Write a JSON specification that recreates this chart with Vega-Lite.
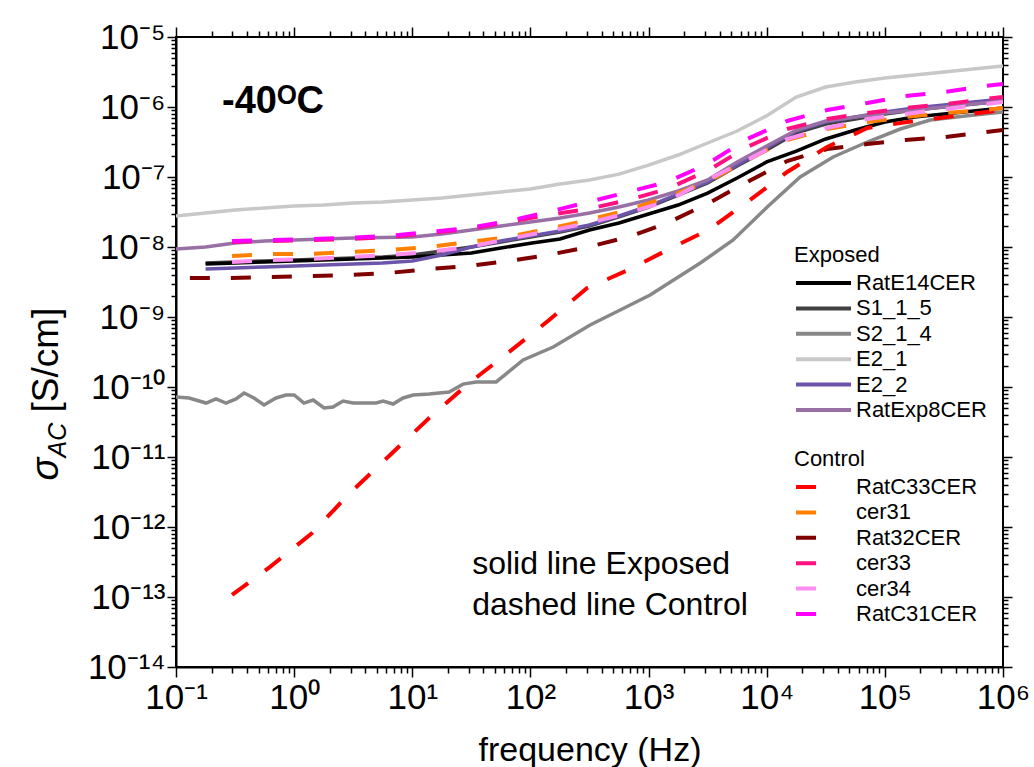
{
  "$schema": "https://vega.github.io/schema/vega-lite/v6.json",
  "width": 827,
  "height": 630,
  "autosize": {"type": "none"},
  "padding": {"left": 176, "top": 37, "right": 31, "bottom": 100},
  "background": "white",
  "config": {
    "font": "Liberation Sans",
    "view": {"stroke": "black", "strokeWidth": 2},
    "axis": {"domainColor": "black", "tickColor": "black", "labelColor": "black", "titleColor": "black", "domainWidth": 2, "tickWidth": 1.5, "grid": false, "labelFont": "Liberation Sans", "titleFont": "Liberation Sans"},
    "legend": {"labelFont": "Liberation Sans", "titleFont": "Liberation Sans", "labelColor": "black", "titleColor": "black"}
  },
  "datasets": {
    "exposed": [
      {"series": "E2_1", "f": 0.1, "s": 2.77e-8}, {"series": "E2_1", "f": 0.178, "s": 3.06e-8}, {"series": "E2_1", "f": 0.316, "s": 3.38e-8}, {"series": "E2_1", "f": 0.562, "s": 3.61e-8}, {"series": "E2_1", "f": 1, "s": 3.85e-8}, {"series": "E2_1", "f": 1.78, "s": 3.98e-8}, {"series": "E2_1", "f": 3.16, "s": 4.26e-8}, {"series": "E2_1", "f": 5.62, "s": 4.39e-8}, {"series": "E2_1", "f": 10, "s": 4.69e-8}, {"series": "E2_1", "f": 17.8, "s": 5.01e-8}, {"series": "E2_1", "f": 31.6, "s": 5.53e-8}, {"series": "E2_1", "f": 56.2, "s": 6.11e-8}, {"series": "E2_1", "f": 100, "s": 6.75e-8}, {"series": "E2_1", "f": 178, "s": 7.94e-8}, {"series": "E2_1", "f": 316, "s": 9.06e-8}, {"series": "E2_1", "f": 562, "s": 1.10e-7}, {"series": "E2_1", "f": 1000, "s": 1.48e-7}, {"series": "E2_1", "f": 1780, "s": 2.06e-7}, {"series": "E2_1", "f": 3160, "s": 3.06e-7}, {"series": "E2_1", "f": 5620, "s": 4.54e-7}, {"series": "E2_1", "f": 10000, "s": 7.5e-7}, {"series": "E2_1", "f": 17800, "s": 1.39e-6}, {"series": "E2_1", "f": 31600, "s": 1.93e-6}, {"series": "E2_1", "f": 56200, "s": 2.28e-6}, {"series": "E2_1", "f": 100000, "s": 2.59e-6}, {"series": "E2_1", "f": 178000, "s": 2.86e-6}, {"series": "E2_1", "f": 316000, "s": 3.16e-6}, {"series": "E2_1", "f": 562000, "s": 3.49e-6}, {"series": "E2_1", "f": 1000000, "s": 3.85e-6},

      {"series": "S2_1_4", "f": 0.1, "s": 7.19e-11}, {"series": "S2_1_4", "f": 0.129, "s": 6.97e-11}, {"series": "S2_1_4", "f": 0.18, "s": 5.90e-11}, {"series": "S2_1_4", "f": 0.218, "s": 6.75e-11}, {"series": "S2_1_4", "f": 0.265, "s": 5.90e-11}, {"series": "S2_1_4", "f": 0.322, "s": 6.75e-11}, {"series": "S2_1_4", "f": 0.377, "s": 8.20e-11}, {"series": "S2_1_4", "f": 0.457, "s": 6.97e-11}, {"series": "S2_1_4", "f": 0.556, "s": 5.53e-11}, {"series": "S2_1_4", "f": 0.703, "s": 6.97e-11}, {"series": "S2_1_4", "f": 0.853, "s": 7.69e-11}, {"series": "S2_1_4", "f": 1.0, "s": 7.69e-11}, {"series": "S2_1_4", "f": 1.21, "s": 5.90e-11}, {"series": "S2_1_4", "f": 1.45, "s": 6.52e-11}, {"series": "S2_1_4", "f": 1.79, "s": 5.01e-11}, {"series": "S2_1_4", "f": 2.13, "s": 5.18e-11}, {"series": "S2_1_4", "f": 2.59, "s": 6.31e-11}, {"series": "S2_1_4", "f": 3.15, "s": 5.90e-11}, {"series": "S2_1_4", "f": 4.94, "s": 5.90e-11}, {"series": "S2_1_4", "f": 5.66, "s": 6.31e-11}, {"series": "S2_1_4", "f": 6.88, "s": 5.71e-11}, {"series": "S2_1_4", "f": 8.36, "s": 6.97e-11}, {"series": "S2_1_4", "f": 10.2, "s": 7.69e-11}, {"series": "S2_1_4", "f": 13.9, "s": 7.94e-11}, {"series": "S2_1_4", "f": 20.5, "s": 8.49e-11}, {"series": "S2_1_4", "f": 26.9, "s": 1.10e-10}, {"series": "S2_1_4", "f": 34.7, "s": 1.18e-10}, {"series": "S2_1_4", "f": 51.3, "s": 1.18e-10}, {"series": "S2_1_4", "f": 86.8, "s": 2.43e-10}, {"series": "S2_1_4", "f": 156, "s": 3.72e-10}, {"series": "S2_1_4", "f": 320, "s": 7.69e-10}, {"series": "S2_1_4", "f": 575, "s": 1.26e-9}, {"series": "S2_1_4", "f": 1030, "s": 2.06e-9}, {"series": "S2_1_4", "f": 2740, "s": 5.90e-9}, {"series": "S2_1_4", "f": 5200, "s": 1.26e-8}, {"series": "S2_1_4", "f": 10100, "s": 3.72e-8}, {"series": "S2_1_4", "f": 19200, "s": 1.00e-7}, {"series": "S2_1_4", "f": 36500, "s": 1.93e-7}, {"series": "S2_1_4", "f": 71000, "s": 3.16e-7}, {"series": "S2_1_4", "f": 135000, "s": 4.85e-7}, {"series": "S2_1_4", "f": 242000, "s": 6.52e-7}, {"series": "S2_1_4", "f": 479000, "s": 7.43e-7}, {"series": "S2_1_4", "f": 1000000, "s": 8.49e-7},

      {"series": "S1_1_5", "f": 0.178, "s": 5.90e-9}, {"series": "S1_1_5", "f": 0.316, "s": 6.11e-9}, {"series": "S1_1_5", "f": 0.562, "s": 6.31e-9}, {"series": "S1_1_5", "f": 1, "s": 6.52e-9}, {"series": "S1_1_5", "f": 1.78, "s": 6.75e-9}, {"series": "S1_1_5", "f": 3.16, "s": 6.97e-9}, {"series": "S1_1_5", "f": 5.62, "s": 7.19e-9}, {"series": "S1_1_5", "f": 10, "s": 7.69e-9}, {"series": "S1_1_5", "f": 17.8, "s": 8.77e-9}, {"series": "S1_1_5", "f": 31.6, "s": 1.00e-8}, {"series": "S1_1_5", "f": 56.2, "s": 1.18e-8}, {"series": "S1_1_5", "f": 100, "s": 1.39e-8}, {"series": "S1_1_5", "f": 178, "s": 1.64e-8}, {"series": "S1_1_5", "f": 316, "s": 2.00e-8}, {"series": "S1_1_5", "f": 562, "s": 2.69e-8}, {"series": "S1_1_5", "f": 1000, "s": 3.72e-8}, {"series": "S1_1_5", "f": 1780, "s": 5.53e-8}, {"series": "S1_1_5", "f": 3160, "s": 8.20e-8}, {"series": "S1_1_5", "f": 5620, "s": 1.44e-7}, {"series": "S1_1_5", "f": 10000, "s": 2.43e-7}, {"series": "S1_1_5", "f": 17800, "s": 4.26e-7}, {"series": "S1_1_5", "f": 31600, "s": 5.71e-7}, {"series": "S1_1_5", "f": 56200, "s": 6.75e-7}, {"series": "S1_1_5", "f": 100000, "s": 7.94e-7}, {"series": "S1_1_5", "f": 178000, "s": 9.06e-7}, {"series": "S1_1_5", "f": 316000, "s": 1.00e-6}, {"series": "S1_1_5", "f": 562000, "s": 1.10e-6}, {"series": "S1_1_5", "f": 1000000, "s": 1.22e-6},

      {"series": "RatE14CER", "f": 0.178, "s": 5.71e-9}, {"series": "RatE14CER", "f": 0.316, "s": 5.90e-9}, {"series": "RatE14CER", "f": 0.562, "s": 6.11e-9}, {"series": "RatE14CER", "f": 1, "s": 6.31e-9}, {"series": "RatE14CER", "f": 1.78, "s": 6.52e-9}, {"series": "RatE14CER", "f": 3.16, "s": 6.75e-9}, {"series": "RatE14CER", "f": 5.62, "s": 6.97e-9}, {"series": "RatE14CER", "f": 10, "s": 7.19e-9}, {"series": "RatE14CER", "f": 17.8, "s": 7.69e-9}, {"series": "RatE14CER", "f": 31.6, "s": 8.20e-9}, {"series": "RatE14CER", "f": 56.2, "s": 9.68e-9}, {"series": "RatE14CER", "f": 100, "s": 1.13e-8}, {"series": "RatE14CER", "f": 178, "s": 1.30e-8}, {"series": "RatE14CER", "f": 316, "s": 1.75e-8}, {"series": "RatE14CER", "f": 562, "s": 2.20e-8}, {"series": "RatE14CER", "f": 1000, "s": 2.96e-8}, {"series": "RatE14CER", "f": 1780, "s": 3.98e-8}, {"series": "RatE14CER", "f": 3160, "s": 5.90e-8}, {"series": "RatE14CER", "f": 5620, "s": 9.68e-8}, {"series": "RatE14CER", "f": 10000, "s": 1.64e-7}, {"series": "RatE14CER", "f": 17800, "s": 2.35e-7}, {"series": "RatE14CER", "f": 31600, "s": 3.49e-7}, {"series": "RatE14CER", "f": 56200, "s": 4.69e-7}, {"series": "RatE14CER", "f": 100000, "s": 6.11e-7}, {"series": "RatE14CER", "f": 178000, "s": 7.19e-7}, {"series": "RatE14CER", "f": 316000, "s": 7.94e-7}, {"series": "RatE14CER", "f": 562000, "s": 8.77e-7}, {"series": "RatE14CER", "f": 1000000, "s": 9.68e-7},

      {"series": "E2_2", "f": 0.178, "s": 4.85e-9}, {"series": "E2_2", "f": 0.316, "s": 5.01e-9}, {"series": "E2_2", "f": 0.562, "s": 5.18e-9}, {"series": "E2_2", "f": 1, "s": 5.36e-9}, {"series": "E2_2", "f": 1.78, "s": 5.53e-9}, {"series": "E2_2", "f": 3.16, "s": 5.71e-9}, {"series": "E2_2", "f": 5.62, "s": 5.90e-9}, {"series": "E2_2", "f": 10, "s": 6.31e-9}, {"series": "E2_2", "f": 17.8, "s": 7.69e-9}, {"series": "E2_2", "f": 31.6, "s": 1.00e-8}, {"series": "E2_2", "f": 56.2, "s": 1.22e-8}, {"series": "E2_2", "f": 100, "s": 1.44e-8}, {"series": "E2_2", "f": 178, "s": 1.69e-8}, {"series": "E2_2", "f": 316, "s": 2.06e-8}, {"series": "E2_2", "f": 562, "s": 2.77e-8}, {"series": "E2_2", "f": 1000, "s": 3.85e-8}, {"series": "E2_2", "f": 1780, "s": 5.71e-8}, {"series": "E2_2", "f": 3160, "s": 8.49e-8}, {"series": "E2_2", "f": 5620, "s": 1.48e-7}, {"series": "E2_2", "f": 10000, "s": 2.59e-7}, {"series": "E2_2", "f": 17800, "s": 4.54e-7}, {"series": "E2_2", "f": 31600, "s": 6.11e-7}, {"series": "E2_2", "f": 56200, "s": 7.19e-7}, {"series": "E2_2", "f": 100000, "s": 8.49e-7}, {"series": "E2_2", "f": 178000, "s": 9.68e-7}, {"series": "E2_2", "f": 316000, "s": 1.07e-6}, {"series": "E2_2", "f": 562000, "s": 1.18e-6}, {"series": "E2_2", "f": 1000000, "s": 1.30e-6},

      {"series": "RatExp8CER", "f": 0.1, "s": 9.35e-9}, {"series": "RatExp8CER", "f": 0.178, "s": 1.00e-8}, {"series": "RatExp8CER", "f": 0.316, "s": 1.14e-8}, {"series": "RatExp8CER", "f": 0.562, "s": 1.22e-8}, {"series": "RatExp8CER", "f": 1, "s": 1.26e-8}, {"series": "RatExp8CER", "f": 1.78, "s": 1.30e-8}, {"series": "RatExp8CER", "f": 3.16, "s": 1.35e-8}, {"series": "RatExp8CER", "f": 5.62, "s": 1.37e-8}, {"series": "RatExp8CER", "f": 10, "s": 1.39e-8}, {"series": "RatExp8CER", "f": 17.8, "s": 1.53e-8}, {"series": "RatExp8CER", "f": 31.6, "s": 1.75e-8}, {"series": "RatExp8CER", "f": 56.2, "s": 2.00e-8}, {"series": "RatExp8CER", "f": 100, "s": 2.28e-8}, {"series": "RatExp8CER", "f": 178, "s": 2.59e-8}, {"series": "RatExp8CER", "f": 316, "s": 3.06e-8}, {"series": "RatExp8CER", "f": 562, "s": 3.72e-8}, {"series": "RatExp8CER", "f": 1000, "s": 4.69e-8}, {"series": "RatExp8CER", "f": 1780, "s": 6.31e-8}, {"series": "RatExp8CER", "f": 3160, "s": 9.06e-8}, {"series": "RatExp8CER", "f": 5620, "s": 1.64e-7}, {"series": "RatExp8CER", "f": 10000, "s": 2.77e-7}, {"series": "RatExp8CER", "f": 17800, "s": 4.69e-7}, {"series": "RatExp8CER", "f": 31600, "s": 6.31e-7}, {"series": "RatExp8CER", "f": 56200, "s": 7.19e-7}, {"series": "RatExp8CER", "f": 100000, "s": 8.20e-7}, {"series": "RatExp8CER", "f": 178000, "s": 9.06e-7}, {"series": "RatExp8CER", "f": 316000, "s": 1.00e-6}, {"series": "RatExp8CER", "f": 562000, "s": 1.10e-6}, {"series": "RatExp8CER", "f": 1000000, "s": 1.22e-6}
    ],
    "control": [
      {"series": "Rat32CER", "f": 0.131, "s": 3.61e-9}, {"series": "Rat32CER", "f": 0.292, "s": 3.61e-9}, {"series": "Rat32CER", "f": 0.637, "s": 3.72e-9}, {"series": "Rat32CER", "f": 1.39, "s": 3.85e-9}, {"series": "Rat32CER", "f": 2.92, "s": 3.98e-9}, {"series": "Rat32CER", "f": 6.36, "s": 4.26e-9}, {"series": "Rat32CER", "f": 13.9, "s": 4.85e-9}, {"series": "Rat32CER", "f": 30.3, "s": 5.36e-9}, {"series": "Rat32CER", "f": 64.7, "s": 6.31e-9}, {"series": "Rat32CER", "f": 141, "s": 7.69e-9}, {"series": "Rat32CER", "f": 308, "s": 1.00e-8}, {"series": "Rat32CER", "f": 672, "s": 1.39e-8}, {"series": "Rat32CER", "f": 1440, "s": 2.20e-8}, {"series": "Rat32CER", "f": 3130, "s": 4.11e-8}, {"series": "Rat32CER", "f": 6840, "s": 8.49e-8}, {"series": "Rat32CER", "f": 14900, "s": 1.69e-7}, {"series": "Rat32CER", "f": 32500, "s": 2.51e-7}, {"series": "Rat32CER", "f": 71000, "s": 2.96e-7}, {"series": "Rat32CER", "f": 149000, "s": 3.38e-7}, {"series": "Rat32CER", "f": 324000, "s": 3.72e-7}, {"series": "Rat32CER", "f": 708000, "s": 4.39e-7}, {"series": "Rat32CER", "f": 1000000, "s": 4.69e-7},

      {"series": "RatC33CER", "f": 0.298, "s": 1.07e-13}, {"series": "RatC33CER", "f": 0.625, "s": 2.69e-13}, {"series": "RatC33CER", "f": 1.42, "s": 8.20e-13}, {"series": "RatC33CER", "f": 2.97, "s": 3.06e-12}, {"series": "RatC33CER", "f": 6.49, "s": 1.07e-11}, {"series": "RatC33CER", "f": 13.9, "s": 3.61e-11}, {"series": "RatC33CER", "f": 30.3, "s": 1.14e-10}, {"series": "RatC33CER", "f": 66.0, "s": 3.16e-10}, {"series": "RatC33CER", "f": 144, "s": 9.06e-10}, {"series": "RatC33CER", "f": 302, "s": 2.59e-9}, {"series": "RatC33CER", "f": 672, "s": 4.69e-9}, {"series": "RatC33CER", "f": 1440, "s": 9.06e-9}, {"series": "RatC33CER", "f": 3200, "s": 1.75e-8}, {"series": "RatC33CER", "f": 6840, "s": 4.39e-8}, {"series": "RatC33CER", "f": 14900, "s": 1.18e-7}, {"series": "RatC33CER", "f": 32500, "s": 2.69e-7}, {"series": "RatC33CER", "f": 71000, "s": 5.01e-7}, {"series": "RatC33CER", "f": 155000, "s": 6.11e-7}, {"series": "RatC33CER", "f": 337000, "s": 7.19e-7}, {"series": "RatC33CER", "f": 736000, "s": 8.49e-7}, {"series": "RatC33CER", "f": 1000000, "s": 9.06e-7},

      {"series": "cer31", "f": 0.298, "s": 7.43e-9}, {"series": "cer31", "f": 0.637, "s": 7.94e-9}, {"series": "cer31", "f": 1.39, "s": 7.94e-9}, {"series": "cer31", "f": 2.92, "s": 8.49e-9}, {"series": "cer31", "f": 6.36, "s": 9.06e-9}, {"series": "cer31", "f": 13.9, "s": 1.00e-8}, {"series": "cer31", "f": 30.3, "s": 1.18e-8}, {"series": "cer31", "f": 64.7, "s": 1.39e-8}, {"series": "cer31", "f": 141, "s": 1.81e-8}, {"series": "cer31", "f": 308, "s": 2.43e-8}, {"series": "cer31", "f": 672, "s": 3.38e-8}, {"series": "cer31", "f": 1440, "s": 5.18e-8}, {"series": "cer31", "f": 3130, "s": 8.49e-8}, {"series": "cer31", "f": 6840, "s": 1.75e-7}, {"series": "cer31", "f": 14900, "s": 3.38e-7}, {"series": "cer31", "f": 32500, "s": 4.85e-7}, {"series": "cer31", "f": 71000, "s": 6.11e-7}, {"series": "cer31", "f": 149000, "s": 7.19e-7}, {"series": "cer31", "f": 324000, "s": 8.20e-7}, {"series": "cer31", "f": 708000, "s": 9.06e-7}, {"series": "cer31", "f": 1000000, "s": 9.68e-7},

      {"series": "cer34", "f": 0.298, "s": 6.11e-9}, {"series": "cer34", "f": 0.637, "s": 6.52e-9}, {"series": "cer34", "f": 1.39, "s": 6.75e-9}, {"series": "cer34", "f": 2.92, "s": 7.19e-9}, {"series": "cer34", "f": 6.36, "s": 7.69e-9}, {"series": "cer34", "f": 13.9, "s": 8.49e-9}, {"series": "cer34", "f": 30.3, "s": 1.00e-8}, {"series": "cer34", "f": 64.7, "s": 1.30e-8}, {"series": "cer34", "f": 141, "s": 1.69e-8}, {"series": "cer34", "f": 308, "s": 2.20e-8}, {"series": "cer34", "f": 672, "s": 3.06e-8}, {"series": "cer34", "f": 1440, "s": 4.54e-8}, {"series": "cer34", "f": 3130, "s": 9.06e-8}, {"series": "cer34", "f": 6840, "s": 1.75e-7}, {"series": "cer34", "f": 14900, "s": 3.49e-7}, {"series": "cer34", "f": 32500, "s": 5.01e-7}, {"series": "cer34", "f": 71000, "s": 6.75e-7}, {"series": "cer34", "f": 149000, "s": 7.94e-7}, {"series": "cer34", "f": 324000, "s": 9.35e-7}, {"series": "cer34", "f": 708000, "s": 1.10e-6}, {"series": "cer34", "f": 1000000, "s": 1.18e-6},

      {"series": "cer33", "f": 0.298, "s": 1.18e-8}, {"series": "cer33", "f": 0.637, "s": 1.22e-8}, {"series": "cer33", "f": 1.39, "s": 1.26e-8}, {"series": "cer33", "f": 2.92, "s": 1.30e-8}, {"series": "cer33", "f": 6.36, "s": 1.39e-8}, {"series": "cer33", "f": 13.9, "s": 1.58e-8}, {"series": "cer33", "f": 30.3, "s": 1.81e-8}, {"series": "cer33", "f": 64.7, "s": 2.28e-8}, {"series": "cer33", "f": 141, "s": 2.86e-8}, {"series": "cer33", "f": 308, "s": 3.49e-8}, {"series": "cer33", "f": 672, "s": 4.69e-8}, {"series": "cer33", "f": 1440, "s": 6.75e-8}, {"series": "cer33", "f": 3130, "s": 1.22e-7}, {"series": "cer33", "f": 6840, "s": 2.69e-7}, {"series": "cer33", "f": 14900, "s": 4.85e-7}, {"series": "cer33", "f": 32500, "s": 6.75e-7}, {"series": "cer33", "f": 71000, "s": 8.20e-7}, {"series": "cer33", "f": 149000, "s": 9.68e-7}, {"series": "cer33", "f": 324000, "s": 1.10e-6}, {"series": "cer33", "f": 708000, "s": 1.30e-6}, {"series": "cer33", "f": 1000000, "s": 1.39e-6},

      {"series": "RatC31CER", "f": 0.298, "s": 1.22e-8}, {"series": "RatC31CER", "f": 0.637, "s": 1.26e-8}, {"series": "RatC31CER", "f": 1.39, "s": 1.30e-8}, {"series": "RatC31CER", "f": 2.92, "s": 1.35e-8}, {"series": "RatC31CER", "f": 6.36, "s": 1.44e-8}, {"series": "RatC31CER", "f": 13.9, "s": 1.64e-8}, {"series": "RatC31CER", "f": 30.3, "s": 1.87e-8}, {"series": "RatC31CER", "f": 64.7, "s": 2.35e-8}, {"series": "RatC31CER", "f": 141, "s": 3.16e-8}, {"series": "RatC31CER", "f": 308, "s": 4.39e-8}, {"series": "RatC31CER", "f": 672, "s": 6.11e-8}, {"series": "RatC31CER", "f": 1440, "s": 8.49e-8}, {"series": "RatC31CER", "f": 3130, "s": 1.53e-7}, {"series": "RatC31CER", "f": 6840, "s": 3.49e-7}, {"series": "RatC31CER", "f": 14900, "s": 6.31e-7}, {"series": "RatC31CER", "f": 32500, "s": 9.06e-7}, {"series": "RatC31CER", "f": 71000, "s": 1.14e-6}, {"series": "RatC31CER", "f": 149000, "s": 1.44e-6}, {"series": "RatC31CER", "f": 324000, "s": 1.64e-6}, {"series": "RatC31CER", "f": 708000, "s": 2.00e-6}, {"series": "RatC31CER", "f": 1000000, "s": 2.13e-6}
    ],
    "header": [{"label": "-40ᴼC", "f": 0.245, "s": 1.18e-6}],
    "notes": [
      {"label": "solid line Exposed", "f": 32.1, "s": 2.13e-13},
      {"label": "dashed line Control", "f": 32.1, "s": 5.53e-14}
    ]
  },
  "layer": [
    {
      "data": {"name": "exposed"},
      "mark": {"type": "line", "strokeWidth": 3.5, "clip": true},
      "encoding": {
        "x": {"field": "f", "type": "quantitative",
          "scale": {"type": "log", "domain": [0.1, 1000000], "nice": false},
          "axis": {"orient": "bottom", "title": "frequency (Hz)", "titleFontSize": 34, "titleFontWeight": "normal", "titleBaseline": "alphabetic", "titleY": 93,
            "values": [0.1,0.2,0.3,0.4,0.5,0.6,0.7,0.8,0.9,1,2,3,4,5,6,7,8,9,10,20,30,40,50,60,70,80,90,100,200,300,400,500,600,700,800,900,1000,2000,3000,4000,5000,6000,7000,8000,9000,10000,20000,30000,40000,50000,60000,70000,80000,90000,100000,200000,300000,400000,500000,600000,700000,800000,900000,1000000],
            "labelExpr": "abs(log(datum.value)/LN10 - round(log(datum.value)/LN10)) < 0.001 ? ['10⁻¹','10⁰','10¹','10²','10³','10⁴','10⁵','10⁶'][round(log(datum.value)/LN10)+1] : ''",
            "labelFontSize": 35, "labelPadding": 3, "labelOverlap": false, "labelFlush": false, "labelBound": false,
            "tickSize": {"condition": {"test": "abs(log(datum.value)/LN10 - round(log(datum.value)/LN10)) < 0.001", "value": 10}, "value": 6}}},
        "y": {"field": "s", "type": "quantitative",
          "scale": {"type": "log", "domain": [1e-14, 1e-5], "nice": false},
          "axis": {"orient": "left", "title": "[S/cm]", "titleFontSize": 37, "titleFontWeight": "normal", "titleAngle": 270, "titleAlign": "left", "titleBaseline": "alphabetic", "titleX": -119, "titleY": 375,
            "values": [1e-14,2e-14,3e-14,4e-14,5e-14,6e-14,7e-14,8e-14,9e-14,1e-13,2e-13,3e-13,4e-13,5e-13,6e-13,7e-13,8e-13,9e-13,1e-12,2e-12,3e-12,4e-12,5e-12,6e-12,7e-12,8e-12,9e-12,1e-11,2e-11,3e-11,4e-11,5e-11,6e-11,7e-11,8e-11,9e-11,1e-10,2e-10,3e-10,4e-10,5e-10,6e-10,7e-10,8e-10,9e-10,1e-9,2e-9,3e-9,4e-9,5e-9,6e-9,7e-9,8e-9,9e-9,1e-8,2e-8,3e-8,4e-8,5e-8,6e-8,7e-8,8e-8,9e-8,1e-7,2e-7,3e-7,4e-7,5e-7,6e-7,7e-7,8e-7,9e-7,1e-6,2e-6,3e-6,4e-6,5e-6,6e-6,7e-6,8e-6,9e-6,1e-5],
            "labelExpr": "abs(log(datum.value)/LN10 - round(log(datum.value)/LN10)) < 0.001 ? ['10⁻¹⁴','10⁻¹³','10⁻¹²','10⁻¹¹','10⁻¹⁰','10⁻⁹','10⁻⁸','10⁻⁷','10⁻⁶','10⁻⁵'][round(log(datum.value)/LN10)+14] : ''",
            "labelFontSize": 35, "labelPadding": 2, "labelOverlap": false, "labelFlush": false, "labelBound": false,
            "tickSize": {"condition": {"test": "abs(log(datum.value)/LN10 - round(log(datum.value)/LN10)) < 0.001", "value": 9}, "value": 5}}},
        "color": {"field": "series", "type": "nominal",
          "scale": {"domain": ["RatE14CER", "S1_1_5", "S2_1_4", "E2_1", "E2_2", "RatExp8CER"],
                    "range": ["#000000", "#404040", "#888888", "#c8c8c8", "#6b54aa", "#9870a6"]},
          "legend": {"title": "Exposed", "orient": "none", "legendX": 618, "legendY": 208, "direction": "vertical",
            "symbolType": "stroke", "symbolSize": 3025, "symbolStrokeWidth": 4, "clipHeight": 20, "rowPadding": 3.4,
            "labelFontSize": 22, "labelOffset": 3, "labelLimit": 400, "titleFontSize": 22, "titleFontWeight": "normal", "titlePadding": 6, "padding": 0}}
      }
    },
    {
      "data": {"name": "control"},
      "mark": {"type": "line", "strokeWidth": 4, "strokeDash": [20, 21], "clip": true},
      "encoding": {
        "x": {"field": "f", "type": "quantitative",
          "scale": {"type": "log", "domain": [0.1, 1000000], "nice": false},
          "axis": {"orient": "top", "title": null, "labels": false, "domain": false,
            "values": [0.1,0.2,0.3,0.4,0.5,0.6,0.7,0.8,0.9,1,2,3,4,5,6,7,8,9,10,20,30,40,50,60,70,80,90,100,200,300,400,500,600,700,800,900,1000,2000,3000,4000,5000,6000,7000,8000,9000,10000,20000,30000,40000,50000,60000,70000,80000,90000,100000,200000,300000,400000,500000,600000,700000,800000,900000,1000000],
            "tickSize": {"condition": {"test": "abs(log(datum.value)/LN10 - round(log(datum.value)/LN10)) < 0.001", "value": 10}, "value": 6}}},
        "y": {"field": "s", "type": "quantitative",
          "scale": {"type": "log", "domain": [1e-14, 1e-5], "nice": false},
          "axis": {"orient": "right", "title": null, "labels": false, "domain": false,
            "values": [1e-14,2e-14,3e-14,4e-14,5e-14,6e-14,7e-14,8e-14,9e-14,1e-13,2e-13,3e-13,4e-13,5e-13,6e-13,7e-13,8e-13,9e-13,1e-12,2e-12,3e-12,4e-12,5e-12,6e-12,7e-12,8e-12,9e-12,1e-11,2e-11,3e-11,4e-11,5e-11,6e-11,7e-11,8e-11,9e-11,1e-10,2e-10,3e-10,4e-10,5e-10,6e-10,7e-10,8e-10,9e-10,1e-9,2e-9,3e-9,4e-9,5e-9,6e-9,7e-9,8e-9,9e-9,1e-8,2e-8,3e-8,4e-8,5e-8,6e-8,7e-8,8e-8,9e-8,1e-7,2e-7,3e-7,4e-7,5e-7,6e-7,7e-7,8e-7,9e-7,1e-6,2e-6,3e-6,4e-6,5e-6,6e-6,7e-6,8e-6,9e-6,1e-5],
            "tickSize": {"condition": {"test": "abs(log(datum.value)/LN10 - round(log(datum.value)/LN10)) < 0.001", "value": 9}, "value": 5}}},
        "color": {"field": "series", "type": "nominal",
          "scale": {"domain": ["RatC33CER", "cer31", "Rat32CER", "cer33", "cer34", "RatC31CER"],
                    "range": ["#ff0000", "#ff8000", "#800000", "#ff1180", "#ff8ef0", "#ff00ff"]},
          "legend": {"title": "Control", "orient": "none", "legendX": 618, "legendY": 412, "direction": "vertical",
            "symbolType": "stroke", "symbolSize": 3025, "symbolStrokeWidth": 4, "symbolDash": [20, 200], "clipHeight": 20, "rowPadding": 3.4,
            "labelFontSize": 22, "labelOffset": 3, "labelLimit": 400, "titleFontSize": 22, "titleFontWeight": "normal", "titlePadding": 6, "padding": 0}}
      }
    },
    {
      "data": {"name": "header"},
      "mark": {"type": "text", "fontSize": 38, "fontWeight": "bold", "align": "left", "baseline": "middle", "color": "black"},
      "encoding": {
        "x": {"field": "f", "type": "quantitative", "scale": {"type": "log", "domain": [0.1, 1000000], "nice": false}, "axis": null},
        "y": {"field": "s", "type": "quantitative", "scale": {"type": "log", "domain": [1e-14, 1e-5], "nice": false},
          "axis": {"orient": "left", "labels": false, "ticks": false, "domain": false, "title": "σ", "titleFontSize": 38, "titleFontStyle": "italic", "titleFontWeight": "normal", "titleAngle": 270, "titleAlign": "left", "titleBaseline": "alphabetic", "titleX": -119, "titleY": 443}},
        "text": {"field": "label", "type": "nominal"}
      }
    },
    {
      "data": {"name": "notes"},
      "mark": {"type": "text", "fontSize": 32, "align": "left", "baseline": "alphabetic", "color": "black"},
      "encoding": {
        "x": {"field": "f", "type": "quantitative", "scale": {"type": "log", "domain": [0.1, 1000000], "nice": false}, "axis": null},
        "y": {"field": "s", "type": "quantitative", "scale": {"type": "log", "domain": [1e-14, 1e-5], "nice": false},
          "axis": {"orient": "left", "labels": false, "ticks": false, "domain": false, "title": "AC", "titleFontSize": 25, "titleFontStyle": "italic", "titleFontWeight": "normal", "titleAngle": 270, "titleAlign": "left", "titleBaseline": "alphabetic", "titleX": -111, "titleY": 420}},
        "text": {"field": "label", "type": "nominal"}
      }
    }
  ],
  "resolve": {"scale": {"color": "independent"}, "axis": {"x": "independent", "y": "independent"}}
}
